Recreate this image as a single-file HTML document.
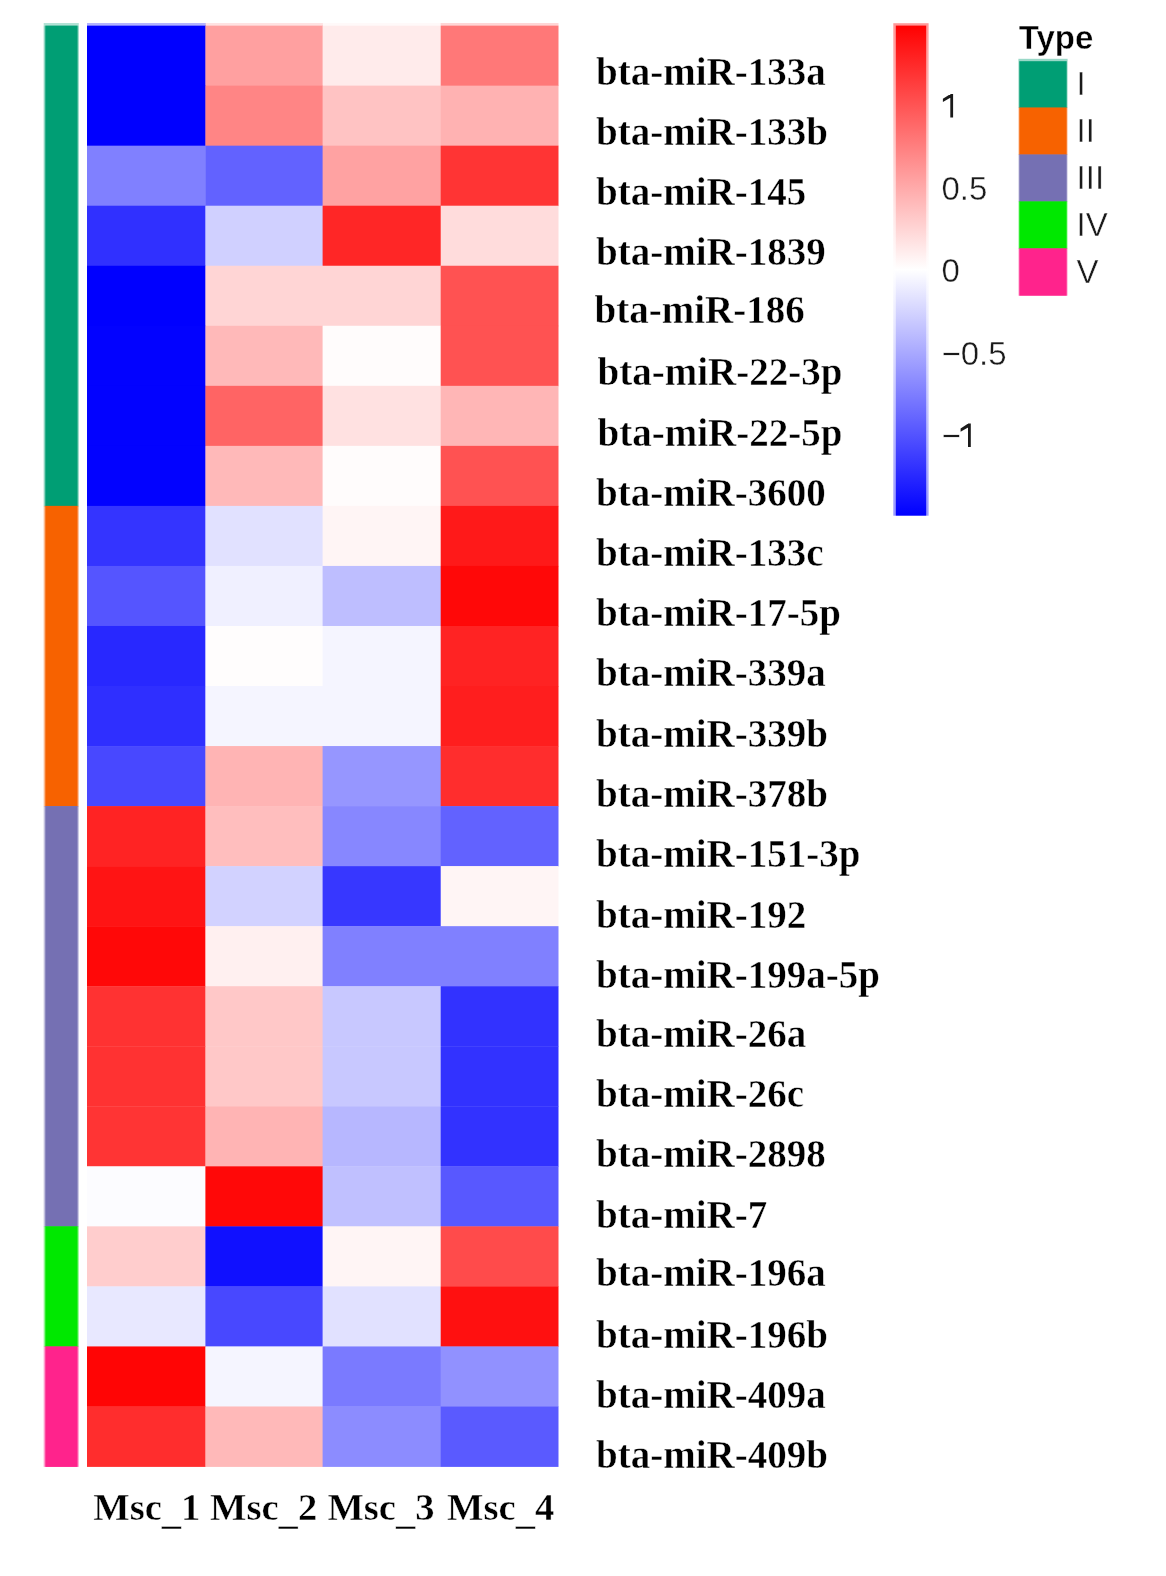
<!DOCTYPE html>
<html><head><meta charset="utf-8"><style>
html,body{margin:0;padding:0;background:#fff;width:1166px;height:1576px;overflow:hidden}
svg{display:block;filter:blur(0.7px)}
.rl{font-family:"Liberation Serif",serif;font-weight:bold;font-size:39px;fill:#000;stroke:#fff;stroke-width:0.4px}
.cl{font-family:"Liberation Serif",serif;font-weight:bold;font-size:38.6px;fill:#000;stroke:#fff;stroke-width:0.4px}
.tk{font-family:"Liberation Sans",sans-serif;font-size:33px;fill:#1a1a1a;stroke:#fff;stroke-width:0.4px}
.tt{font-family:"Liberation Sans",sans-serif;font-weight:bold;font-size:33px;fill:#000;stroke:#fff;stroke-width:0.4px}
</style></head><body>
<svg width="1166" height="1576" viewBox="0 0 1166 1576">
<rect x="87.00" y="23.0" width="118.80" height="2.8" fill="rgb(0,0,255)" opacity="0.3"/>
<rect x="205.40" y="23.0" width="117.60" height="2.8" fill="rgb(255,160,160)" opacity="0.3"/>
<rect x="322.60" y="23.0" width="118.50" height="2.8" fill="rgb(255,235,235)" opacity="0.3"/>
<rect x="440.70" y="23.0" width="117.80" height="2.8" fill="rgb(255,120,120)" opacity="0.3"/>
<rect x="87.00" y="25.60" width="118.80" height="60.44" fill="rgb(0,0,255)"/>
<rect x="205.40" y="25.60" width="117.60" height="60.44" fill="rgb(255,160,160)"/>
<rect x="322.60" y="25.60" width="118.50" height="60.44" fill="rgb(255,235,235)"/>
<rect x="440.70" y="25.60" width="117.80" height="60.44" fill="rgb(255,120,120)"/>
<rect x="87.00" y="85.64" width="118.80" height="60.44" fill="rgb(0,0,255)"/>
<rect x="205.40" y="85.64" width="117.60" height="60.44" fill="rgb(255,133,133)"/>
<rect x="322.60" y="85.64" width="118.50" height="60.44" fill="rgb(255,195,195)"/>
<rect x="440.70" y="85.64" width="117.80" height="60.44" fill="rgb(255,178,178)"/>
<rect x="87.00" y="145.68" width="118.80" height="60.44" fill="rgb(128,128,255)"/>
<rect x="205.40" y="145.68" width="117.60" height="60.44" fill="rgb(98,98,255)"/>
<rect x="322.60" y="145.68" width="118.50" height="60.44" fill="rgb(255,162,162)"/>
<rect x="440.70" y="145.68" width="117.80" height="60.44" fill="rgb(255,52,52)"/>
<rect x="87.00" y="205.71" width="118.80" height="60.44" fill="rgb(48,48,255)"/>
<rect x="205.40" y="205.71" width="117.60" height="60.44" fill="rgb(208,208,255)"/>
<rect x="322.60" y="205.71" width="118.50" height="60.44" fill="rgb(255,38,38)"/>
<rect x="440.70" y="205.71" width="117.80" height="60.44" fill="rgb(255,220,220)"/>
<rect x="87.00" y="265.75" width="118.80" height="60.44" fill="rgb(0,0,255)"/>
<rect x="205.40" y="265.75" width="117.60" height="60.44" fill="rgb(255,213,213)"/>
<rect x="322.60" y="265.75" width="118.50" height="60.44" fill="rgb(255,213,213)"/>
<rect x="440.70" y="265.75" width="117.80" height="60.44" fill="rgb(255,82,82)"/>
<rect x="87.00" y="325.79" width="118.80" height="60.44" fill="rgb(2,2,255)"/>
<rect x="205.40" y="325.79" width="117.60" height="60.44" fill="rgb(255,185,185)"/>
<rect x="322.60" y="325.79" width="118.50" height="60.44" fill="rgb(255,252,252)"/>
<rect x="440.70" y="325.79" width="117.80" height="60.44" fill="rgb(255,82,82)"/>
<rect x="87.00" y="385.83" width="118.80" height="60.44" fill="rgb(2,2,255)"/>
<rect x="205.40" y="385.83" width="117.60" height="60.44" fill="rgb(255,100,100)"/>
<rect x="322.60" y="385.83" width="118.50" height="60.44" fill="rgb(255,225,225)"/>
<rect x="440.70" y="385.83" width="117.80" height="60.44" fill="rgb(255,182,182)"/>
<rect x="87.00" y="445.86" width="118.80" height="60.44" fill="rgb(2,2,255)"/>
<rect x="205.40" y="445.86" width="117.60" height="60.44" fill="rgb(255,185,185)"/>
<rect x="322.60" y="445.86" width="118.50" height="60.44" fill="rgb(255,252,252)"/>
<rect x="440.70" y="445.86" width="117.80" height="60.44" fill="rgb(255,82,82)"/>
<rect x="87.00" y="505.90" width="118.80" height="60.44" fill="rgb(52,52,255)"/>
<rect x="205.40" y="505.90" width="117.60" height="60.44" fill="rgb(225,225,255)"/>
<rect x="322.60" y="505.90" width="118.50" height="60.44" fill="rgb(255,245,245)"/>
<rect x="440.70" y="505.90" width="117.80" height="60.44" fill="rgb(255,25,25)"/>
<rect x="87.00" y="565.94" width="118.80" height="60.44" fill="rgb(85,85,255)"/>
<rect x="205.40" y="565.94" width="117.60" height="60.44" fill="rgb(240,240,255)"/>
<rect x="322.60" y="565.94" width="118.50" height="60.44" fill="rgb(190,190,255)"/>
<rect x="440.70" y="565.94" width="117.80" height="60.44" fill="rgb(255,8,8)"/>
<rect x="87.00" y="625.98" width="118.80" height="60.44" fill="rgb(40,40,255)"/>
<rect x="205.40" y="625.98" width="117.60" height="60.44" fill="rgb(255,253,253)"/>
<rect x="322.60" y="625.98" width="118.50" height="60.44" fill="rgb(245,245,255)"/>
<rect x="440.70" y="625.98" width="117.80" height="60.44" fill="rgb(255,35,35)"/>
<rect x="87.00" y="686.01" width="118.80" height="60.44" fill="rgb(47,47,255)"/>
<rect x="205.40" y="686.01" width="117.60" height="60.44" fill="rgb(245,245,255)"/>
<rect x="322.60" y="686.01" width="118.50" height="60.44" fill="rgb(245,245,255)"/>
<rect x="440.70" y="686.01" width="117.80" height="60.44" fill="rgb(255,30,30)"/>
<rect x="87.00" y="746.05" width="118.80" height="60.44" fill="rgb(72,72,255)"/>
<rect x="205.40" y="746.05" width="117.60" height="60.44" fill="rgb(255,180,180)"/>
<rect x="322.60" y="746.05" width="118.50" height="60.44" fill="rgb(150,150,255)"/>
<rect x="440.70" y="746.05" width="117.80" height="60.44" fill="rgb(255,45,45)"/>
<rect x="87.00" y="806.09" width="118.80" height="60.44" fill="rgb(255,35,35)"/>
<rect x="205.40" y="806.09" width="117.60" height="60.44" fill="rgb(255,190,190)"/>
<rect x="322.60" y="806.09" width="118.50" height="60.44" fill="rgb(135,135,255)"/>
<rect x="440.70" y="806.09" width="117.80" height="60.44" fill="rgb(98,98,255)"/>
<rect x="87.00" y="866.12" width="118.80" height="60.44" fill="rgb(255,20,20)"/>
<rect x="205.40" y="866.12" width="117.60" height="60.44" fill="rgb(210,210,255)"/>
<rect x="322.60" y="866.12" width="118.50" height="60.44" fill="rgb(55,55,255)"/>
<rect x="440.70" y="866.12" width="117.80" height="60.44" fill="rgb(255,245,245)"/>
<rect x="87.00" y="926.16" width="118.80" height="60.44" fill="rgb(255,8,8)"/>
<rect x="205.40" y="926.16" width="117.60" height="60.44" fill="rgb(255,240,240)"/>
<rect x="322.60" y="926.16" width="118.50" height="60.44" fill="rgb(128,128,255)"/>
<rect x="440.70" y="926.16" width="117.80" height="60.44" fill="rgb(128,128,255)"/>
<rect x="87.00" y="986.20" width="118.80" height="60.44" fill="rgb(255,50,50)"/>
<rect x="205.40" y="986.20" width="117.60" height="60.44" fill="rgb(255,200,200)"/>
<rect x="322.60" y="986.20" width="118.50" height="60.44" fill="rgb(200,200,255)"/>
<rect x="440.70" y="986.20" width="117.80" height="60.44" fill="rgb(50,50,255)"/>
<rect x="87.00" y="1046.24" width="118.80" height="60.44" fill="rgb(255,50,50)"/>
<rect x="205.40" y="1046.24" width="117.60" height="60.44" fill="rgb(255,200,200)"/>
<rect x="322.60" y="1046.24" width="118.50" height="60.44" fill="rgb(200,200,255)"/>
<rect x="440.70" y="1046.24" width="117.80" height="60.44" fill="rgb(50,50,255)"/>
<rect x="87.00" y="1106.27" width="118.80" height="60.44" fill="rgb(255,52,52)"/>
<rect x="205.40" y="1106.27" width="117.60" height="60.44" fill="rgb(255,180,180)"/>
<rect x="322.60" y="1106.27" width="118.50" height="60.44" fill="rgb(183,183,255)"/>
<rect x="440.70" y="1106.27" width="117.80" height="60.44" fill="rgb(50,50,255)"/>
<rect x="87.00" y="1166.31" width="118.80" height="60.44" fill="rgb(252,252,255)"/>
<rect x="205.40" y="1166.31" width="117.60" height="60.44" fill="rgb(255,8,8)"/>
<rect x="322.60" y="1166.31" width="118.50" height="60.44" fill="rgb(192,192,255)"/>
<rect x="440.70" y="1166.31" width="117.80" height="60.44" fill="rgb(88,88,255)"/>
<rect x="87.00" y="1226.35" width="118.80" height="60.44" fill="rgb(255,205,205)"/>
<rect x="205.40" y="1226.35" width="117.60" height="60.44" fill="rgb(16,16,255)"/>
<rect x="322.60" y="1226.35" width="118.50" height="60.44" fill="rgb(255,245,245)"/>
<rect x="440.70" y="1226.35" width="117.80" height="60.44" fill="rgb(255,75,75)"/>
<rect x="87.00" y="1286.39" width="118.80" height="60.44" fill="rgb(232,232,255)"/>
<rect x="205.40" y="1286.39" width="117.60" height="60.44" fill="rgb(72,72,255)"/>
<rect x="322.60" y="1286.39" width="118.50" height="60.44" fill="rgb(225,225,255)"/>
<rect x="440.70" y="1286.39" width="117.80" height="60.44" fill="rgb(255,16,16)"/>
<rect x="87.00" y="1346.42" width="118.80" height="60.44" fill="rgb(255,5,5)"/>
<rect x="205.40" y="1346.42" width="117.60" height="60.44" fill="rgb(245,245,255)"/>
<rect x="322.60" y="1346.42" width="118.50" height="60.44" fill="rgb(122,122,255)"/>
<rect x="440.70" y="1346.42" width="117.80" height="60.44" fill="rgb(145,145,255)"/>
<rect x="87.00" y="1406.46" width="118.80" height="60.44" fill="rgb(255,45,45)"/>
<rect x="205.40" y="1406.46" width="117.60" height="60.44" fill="rgb(255,185,185)"/>
<rect x="322.60" y="1406.46" width="118.50" height="60.44" fill="rgb(140,140,255)"/>
<rect x="440.70" y="1406.46" width="117.80" height="60.44" fill="rgb(90,90,255)"/>
<rect x="43.7" y="23.0" width="35.10" height="2.6" fill="#009E74" opacity="0.3"/>
<rect x="43.7" y="25.60" width="35.10" height="480.70" fill="#009E74" opacity="0.45"/>
<rect x="45.300000000000004" y="25.60" width="32.30" height="480.70" fill="#009E74"/>
<rect x="43.7" y="505.90" width="35.10" height="300.59" fill="#F76200" opacity="0.45"/>
<rect x="45.300000000000004" y="505.90" width="32.30" height="300.59" fill="#F76200"/>
<rect x="43.7" y="806.09" width="35.10" height="420.66" fill="#7570B3" opacity="0.45"/>
<rect x="45.300000000000004" y="806.09" width="32.30" height="420.66" fill="#7570B3"/>
<rect x="43.7" y="1226.35" width="35.10" height="120.48" fill="#00E800" opacity="0.45"/>
<rect x="45.300000000000004" y="1226.35" width="32.30" height="120.48" fill="#00E800"/>
<rect x="43.7" y="1346.42" width="35.10" height="120.48" fill="#FF238C" opacity="0.45"/>
<rect x="45.300000000000004" y="1346.42" width="32.30" height="120.48" fill="#FF238C"/>
<text x="596.0" y="84.9" class="rl">bta-miR-133a</text>
<text x="596.0" y="145.1" class="rl">bta-miR-133b</text>
<text x="596.0" y="205.2" class="rl">bta-miR-145</text>
<text x="596.0" y="265.3" class="rl">bta-miR-1839</text>
<text x="594.6" y="322.5" class="rl">bta-miR-186</text>
<text x="597.5" y="384.9" class="rl">bta-miR-22-3p</text>
<text x="597.5" y="445.7" class="rl">bta-miR-22-5p</text>
<text x="596.0" y="505.9" class="rl">bta-miR-3600</text>
<text x="596.0" y="566.0" class="rl">bta-miR-133c</text>
<text x="596.0" y="626.1" class="rl">bta-miR-17-5p</text>
<text x="596.0" y="686.3" class="rl">bta-miR-339a</text>
<text x="596.0" y="747.4" class="rl">bta-miR-339b</text>
<text x="596.0" y="806.5" class="rl">bta-miR-378b</text>
<text x="596.0" y="866.7" class="rl">bta-miR-151-3p</text>
<text x="596.0" y="927.8" class="rl">bta-miR-192</text>
<text x="596.0" y="988.4" class="rl">bta-miR-199a-5p</text>
<text x="596.0" y="1047.1" class="rl">bta-miR-26a</text>
<text x="596.0" y="1107.2" class="rl">bta-miR-26c</text>
<text x="596.0" y="1167.3" class="rl">bta-miR-2898</text>
<text x="596.0" y="1227.5" class="rl">bta-miR-7</text>
<text x="596.0" y="1285.9" class="rl">bta-miR-196a</text>
<text x="596.0" y="1348.2" class="rl">bta-miR-196b</text>
<text x="596.0" y="1407.9" class="rl">bta-miR-409a</text>
<text x="596.0" y="1468.0" class="rl">bta-miR-409b</text>
<text x="146.8" y="1520.3" class="cl" text-anchor="middle">Msc<tspan dy="3.6">_</tspan><tspan dy="-3.6">1</tspan></text>
<text x="263.6" y="1520.3" class="cl" text-anchor="middle">Msc<tspan dy="3.6">_</tspan><tspan dy="-3.6">2</tspan></text>
<text x="381.0" y="1520.3" class="cl" text-anchor="middle">Msc<tspan dy="3.6">_</tspan><tspan dy="-3.6">3</tspan></text>
<text x="500.7" y="1520.3" class="cl" text-anchor="middle">Msc<tspan dy="3.6">_</tspan><tspan dy="-3.6">4</tspan></text>
<defs><linearGradient id="cb" gradientUnits="userSpaceOnUse" x1="0" y1="24.5" x2="0" y2="515"><stop offset="0" stop-color="#FF0000"/><stop offset="0.5" stop-color="#FFFFFF"/><stop offset="1" stop-color="#0000FF"/></linearGradient></defs>
<rect x="893.3" y="23.2" width="35.3" height="492.5" fill="url(#cb)" opacity="0.4"/>
<rect x="895.8" y="25.6" width="30.4" height="490.0" fill="url(#cb)"/>
<path d="M950.3,93.9h2.8v23.6h-2.8z M950.5,93.9L950.3,97.8L942.9,102.1L942.9,98.8z" fill="#1a1a1a"/>
<text x="941.5" y="199.9" class="tk">0.5</text>
<text x="941.5" y="282.3" class="tk">0</text>
<text x="941.5" y="364.7" class="tk">−0.5</text>
<text x="941.5" y="447.1" class="tk">−</text>
<path d="M968.0,423.5h2.8v23.6h-2.8z M968.2,423.5L968.0,427.4L960.6,431.7L960.6,428.4z" fill="#1a1a1a"/>
<text x="1018.8" y="49.0" class="tt">Type</text>
<rect x="1018.4" y="58.80" width="49.2" height="49.14" fill="#009E74" opacity="0.4"/>
<rect x="1019.3" y="61.20" width="47.4" height="46.74" fill="#009E74"/>
<text x="1076.6" y="95.4" class="tk">I</text>
<rect x="1018.4" y="107.54" width="49.2" height="47.34" fill="#F76200" opacity="0.4"/>
<rect x="1019.3" y="107.54" width="47.4" height="47.34" fill="#F76200"/>
<text x="1076.6" y="142.3" class="tk">II</text>
<rect x="1018.4" y="154.48" width="49.2" height="47.34" fill="#7570B3" opacity="0.4"/>
<rect x="1019.3" y="154.48" width="47.4" height="47.34" fill="#7570B3"/>
<text x="1076.6" y="189.3" class="tk">III</text>
<rect x="1018.4" y="201.42" width="49.2" height="47.34" fill="#00E800" opacity="0.4"/>
<rect x="1019.3" y="201.42" width="47.4" height="47.34" fill="#00E800"/>
<text x="1076.6" y="236.2" class="tk">IV</text>
<rect x="1018.4" y="248.36" width="49.2" height="47.34" fill="#FF238C" opacity="0.4"/>
<rect x="1019.3" y="248.36" width="47.4" height="47.34" fill="#FF238C"/>
<text x="1076.6" y="283.1" class="tk">V</text>
</svg>
</body></html>
